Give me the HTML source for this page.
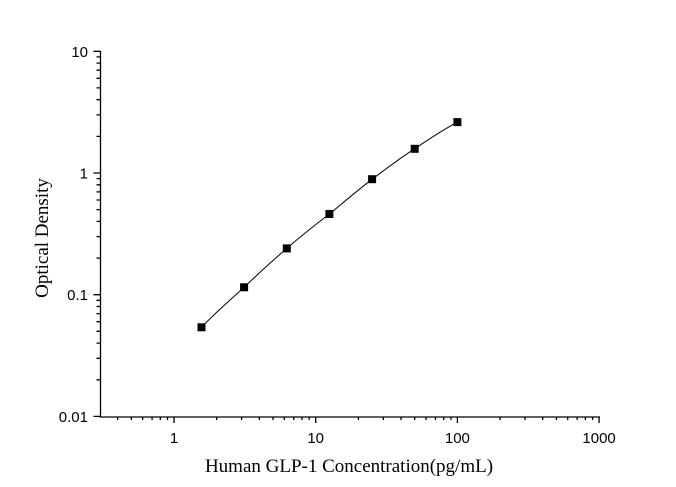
<!DOCTYPE html>
<html><head><style>body{margin:0;background:#fff}svg{display:block}text{fill:#000}.n{font-family:"Liberation Sans",sans-serif}.t{font-family:"Liberation Serif",serif}</style></head><body>
<svg width="676" height="487" xmlns="http://www.w3.org/2000/svg">
<g stroke="#000" stroke-width="1.3" fill="none">
<path d="M100.5,51 V417 H600"/>
<path d="M174,417v6M315.7,417v6M457.4,417v6M599.1,417v6"/>
<path d="M117.6,417v3M131.3,417v3M142.6,417v3M152.1,417v3M160.3,417v3M167.5,417v3M216.7,417v3M241.6,417v3M259.3,417v3M273,417v3M284.3,417v3M293.8,417v3M302,417v3M309.2,417v3M358.4,417v3M383.3,417v3M401,417v3M414.7,417v3M426,417v3M435.5,417v3M443.7,417v3M450.9,417v3M500.1,417v3M525,417v3M542.7,417v3M556.4,417v3M567.7,417v3M577.2,417v3M585.4,417v3M592.6,417v3"/>
<path d="M100.5,416.4h-7M100.5,294.7h-7M100.5,173h-7M100.5,51.3h-7"/>
<path d="M100.5,379.8h-4M100.5,358.3h-4M100.5,343.1h-4M100.5,331.3h-4M100.5,321.7h-4M100.5,313.6h-4M100.5,306.5h-4M100.5,300.3h-4M100.5,258.1h-4M100.5,236.6h-4M100.5,221.4h-4M100.5,209.6h-4M100.5,200h-4M100.5,191.9h-4M100.5,184.8h-4M100.5,178.6h-4M100.5,136.4h-4M100.5,114.9h-4M100.5,99.7h-4M100.5,87.9h-4M100.5,78.3h-4M100.5,70.2h-4M100.5,63.1h-4M100.5,56.9h-4"/>
</g>
<path d="M201.5,327.3 C215,313 230,300 244.1,287.3 C258,274 272,261 286.8,248.4 C301,236 315,225 329.4,214 C344,202 358,190 372.1,179.2 C386,169 400,158 414.7,148.8 C429,139 443,130 457.4,122.1" stroke="#000" stroke-width="1" fill="none"/>
<g fill="#000">
<rect x="197.5" y="323.3" width="8" height="8"/><rect x="240.1" y="283.3" width="8" height="8"/><rect x="282.8" y="244.4" width="8" height="8"/><rect x="325.4" y="210" width="8" height="8"/><rect x="368.1" y="175.2" width="8" height="8"/><rect x="410.7" y="144.8" width="8" height="8"/><rect x="453.4" y="118.1" width="8" height="8"/>
</g>
<g class="n" font-size="15" text-anchor="middle">
<text x="174" y="443">1</text><text x="315.7" y="443">10</text><text x="457.4" y="443">100</text><text x="599.1" y="443">1000</text>
</g>
<g class="n" font-size="15" text-anchor="end">
<text x="88" y="422">0.01</text><text x="88" y="300">0.1</text><text x="88" y="178.5">1</text><text x="88" y="57">10</text>
</g>
<text class="t" x="349" y="472" font-size="19" text-anchor="middle">Human GLP-1 Concentration(pg/mL)</text>
<text class="t" transform="translate(48,238) rotate(-90)" font-size="19" text-anchor="middle">Optical Density</text>
</svg>
</body></html>
